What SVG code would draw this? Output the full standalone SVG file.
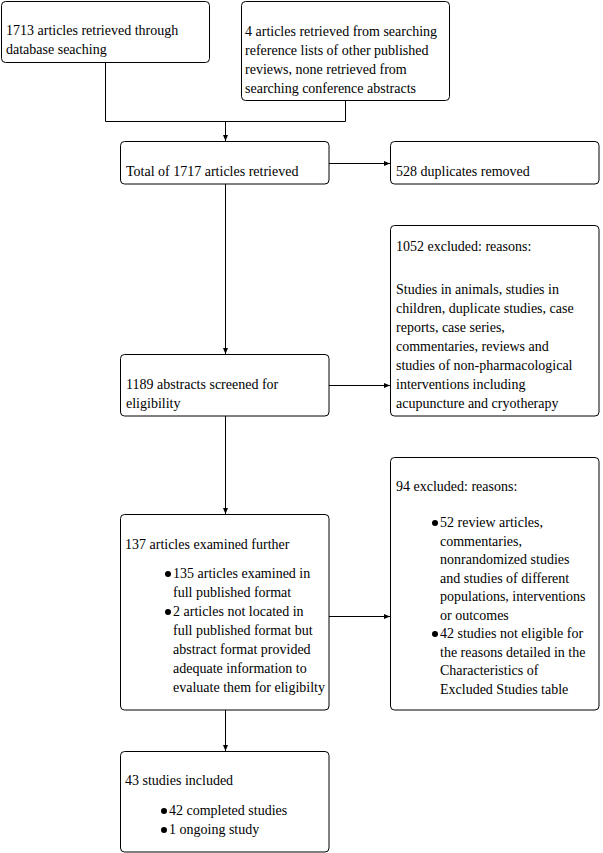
<svg xmlns="http://www.w3.org/2000/svg" width="603" height="853" viewBox="0 0 603 853">
<style>
rect.box{fill:#fff;stroke:#000;stroke-width:1}
text{font-size:14px;fill:#000}
.conn line,.conn polyline{stroke:#000;stroke-width:1;fill:none}
circle.b{fill:#000}
</style>
<defs>
<marker id="ah" markerUnits="userSpaceOnUse" markerWidth="7" markerHeight="6" refX="6" refY="3" orient="auto">
<path d="M0,0.5 L6,3 L0,5.5 z" fill="#000"/>
</marker>
</defs>
<rect width="603" height="853" fill="#fff"/>
<g class="conn" id="connectors">
<polyline points="105.5,62 105.5,121.5 345.5,121.5 345.5,100"/>
<line x1="225.5" y1="121.5" x2="225.5" y2="141" marker-end="url(#ah)"/>
<line x1="329" y1="163.5" x2="390" y2="163.5" marker-end="url(#ah)"/>
<line x1="225.5" y1="184" x2="225.5" y2="354" marker-end="url(#ah)"/>
<line x1="329" y1="385.5" x2="390" y2="385.5" marker-end="url(#ah)"/>
<line x1="225.5" y1="416" x2="225.5" y2="514" marker-end="url(#ah)"/>
<line x1="329" y1="616.5" x2="390" y2="616.5" marker-end="url(#ah)"/>
<line x1="225.5" y1="710" x2="225.5" y2="751" marker-end="url(#ah)"/>
</g>
<g id="n1" font-family="'Liberation Serif'">
<rect class="box" x="1.5" y="1.5" width="208" height="61" rx="4"/>
<text x="6" y="35">1713 articles retrieved through</text>
<text x="6" y="54">database seaching</text>
</g>
<g id="n2" font-family="'Liberation Serif'">
<rect class="box" x="241.5" y="1.5" width="208" height="99" rx="4"/>
<text x="245" y="36">4 articles retrieved from searching</text>
<text x="245" y="55">reference lists of other published</text>
<text x="245" y="74">reviews, none retrieved from</text>
<text x="245" y="93">searching conference abstracts</text>
</g>
<g id="n3" font-family="'Liberation Serif'">
<rect class="box" x="120.5" y="141.5" width="208.5" height="42.5" rx="4"/>
<text x="126" y="176">Total of 1717 articles retrieved</text>
</g>
<g id="n4" font-family="'Liberation Serif'">
<rect class="box" x="390.5" y="141.5" width="208.5" height="42.5" rx="4"/>
<text x="396" y="176">528 duplicates removed</text>
</g>
<g id="n5" font-family="'Liberation Serif'">
<rect class="box" x="390.5" y="225.5" width="208.5" height="190.5" rx="4"/>
<text x="396" y="251">1052 excluded: reasons:</text>
<text x="396" y="294">Studies in animals, studies in</text>
<text x="396" y="313">children, duplicate studies, case</text>
<text x="396" y="332">reports, case series,</text>
<text x="396" y="351">commentaries, reviews and</text>
<text x="396" y="370">studies of non-pharmacological</text>
<text x="396" y="389">interventions including</text>
<text x="396" y="408">acupuncture and cryotherapy</text>
</g>
<g id="n6" font-family="'Liberation Serif'">
<rect class="box" x="120.5" y="354.5" width="208.5" height="61.5" rx="4"/>
<text x="126" y="389">1189 abstracts screened for</text>
<text x="126" y="408">eligibility</text>
</g>
<g id="n7" font-family="'Liberation Serif'">
<rect class="box" x="120.5" y="514.5" width="208.5" height="195.5" rx="4"/>
<text x="125" y="549">137 articles examined further</text>
<circle class="b" cx="168" cy="574" r="3"/>
<text x="173" y="578">135 articles examined in</text>
<text x="173" y="597">full published format</text>
<circle class="b" cx="168" cy="612" r="3"/>
<text x="173" y="616">2 articles not located in</text>
<text x="173" y="635">full published format but</text>
<text x="173" y="654">abstract format provided</text>
<text x="173" y="673">adequate information to</text>
<text x="173" y="692">evaluate them for eligibilty</text>
</g>
<g id="n8" font-family="'Liberation Serif'">
<rect class="box" x="390.5" y="457.5" width="208.5" height="252.5" rx="4"/>
<text x="396" y="491">94 excluded: reasons:</text>
<circle class="b" cx="435" cy="523" r="3"/>
<text x="440" y="527">52 review articles,</text>
<text x="440" y="545.5">commentaries,</text>
<text x="440" y="564">nonrandomized studies</text>
<text x="440" y="582.5">and studies of different</text>
<text x="440" y="601">populations, interventions</text>
<text x="440" y="619.5">or outcomes</text>
<circle class="b" cx="435" cy="634" r="3"/>
<text x="440" y="638">42 studies not eligible for</text>
<text x="440" y="656.5">the reasons detailed in the</text>
<text x="440" y="675">Characteristics of</text>
<text x="440" y="693.5">Excluded Studies table</text>
</g>
<g id="n9" font-family="'Liberation Serif'">
<rect class="box" x="120.5" y="751.5" width="208.5" height="100.5" rx="4"/>
<text x="125" y="785">43 studies included</text>
<circle class="b" cx="164" cy="811" r="3"/>
<text x="169" y="815">42 completed studies</text>
<circle class="b" cx="164" cy="830" r="3"/>
<text x="169" y="834">1 ongoing study</text>
</g>
</svg>
